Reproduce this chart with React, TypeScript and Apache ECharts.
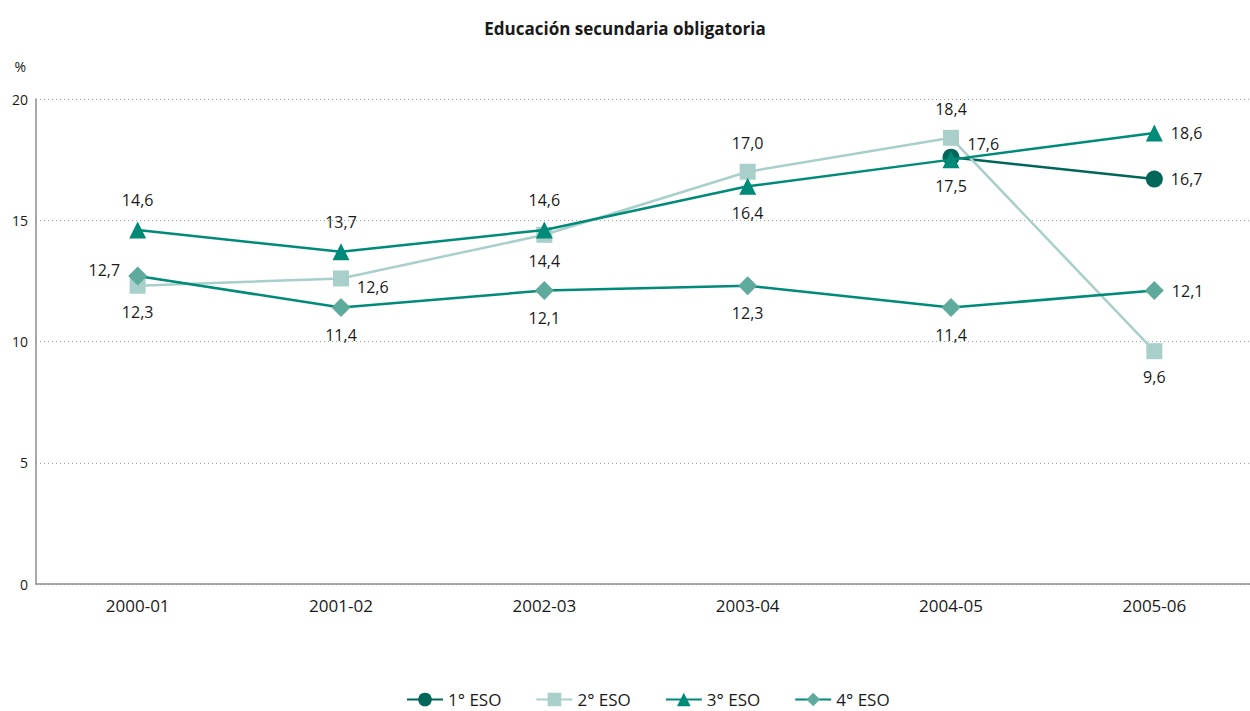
import React, { useEffect, useRef } from "react";
import * as echarts from "echarts";

const categories = ["2000-01", "2001-02", "2002-03", "2003-04", "2004-05", "2005-06"];
const seriesNames = ["1° ESO", "2° ESO", "3° ESO", "4° ESO"];
const eso1 = [null, null, null, null, 17.6, 16.7];
const eso2 = [12.3, 12.6, 14.4, 17.0, 18.4, 9.6];
const eso3 = [14.6, 13.7, 14.6, 16.4, 17.5, 18.6];
const eso4 = [12.7, 11.4, 12.1, 12.3, 11.4, 12.1];
const yTicks = [0, 5, 10, 15, 20];

// label placement per point
const pos1 = ["top", "top", "top", "top", "right", "right"];
const pos2 = ["bottom", "right", "bottom", "top", "top", "bottom"];
const pos3 = ["top", "top", "top", "bottom", "bottom", "right"];
const pos4 = ["left", "bottom", "bottom", "bottom", "bottom", "right"];
const off1 = [[0, 0], [0, 0], [0, 0], [0, 0], [0, -13], [0, 0]];
const off2 = [[0, 0], [0, 9], [0, 0], [0, 0], [0, 0], [0, 0]];
const off4 = [[0, -6], [0, 0], [0, 0], [0, 0], [0, 0], [0, 0]];

const fmt = (v: number) => v.toFixed(1).replace(".", ",");

function build(values: (number | null)[], positions: string[], offsets?: number[][]) {
  return values.map((v, i) => {
    if (v === null) return null;
    const p = positions[i];
    return {
      value: v,
      label: {
        position: p,
        distance: p === "top" ? 13 : p === "bottom" ? 10 : 8,
        offset: offsets ? offsets[i] : [0, 0],
      },
    };
  });
}

export default function App() {
  const ref = useRef<HTMLDivElement>(null);
  useEffect(() => {
    document.body.style.margin = "0";
    if (!ref.current) return;
    const chart = echarts.init(ref.current, undefined, { renderer: "svg" });
    const font = "'Open Sans', 'Noto Sans', sans-serif";
    const labelBase = {
      show: true,
      fontSize: 16,
      color: "#1a1a1a",
      fontFamily: font,
      formatter: (p: any) => fmt(p.value),
    };
    chart.setOption({
      animation: false,
      textStyle: { fontFamily: font },
      title: {
        text: "Educación secundaria obligatoria",
        left: "center",
        top: 15,
        textStyle: { fontSize: 17, fontWeight: "bold", color: "#1a1a1a", fontFamily: font },
      },
      legend: {
        top: 686,
        left: 401,
        itemWidth: 36,
        itemHeight: 17,
        itemGap: 34,
        textStyle: { fontSize: 17, color: "#1a1a1a", fontFamily: font },
        data: seriesNames,
      },
      grid: {
        left: 36,
        width: 1220,
        top: 99,
        bottom: 127,
        containLabel: false,
        outerBoundsMode: "none",
      },
      xAxis: {
        type: "category",
        data: categories,
        axisLine: { lineStyle: { color: "#8c8c8c", width: 1.5 } },
        axisTick: { show: false },
        axisLabel: { fontSize: 17, color: "#1a1a1a", margin: 13, fontFamily: font },
      },
      yAxis: {
        type: "value",
        min: yTicks[0],
        max: yTicks[yTicks.length - 1],
        interval: 5,
        name: "%",
        nameLocation: "end",
        nameGap: 26,
        nameTextStyle: { fontSize: 14, color: "#1a1a1a", align: "right", padding: [0, 10, 0, 0] },
        axisLine: { show: true, lineStyle: { color: "#8c8c8c", width: 1.5 } },
        axisTick: { show: false },
        axisLabel: { fontSize: 14, color: "#1a1a1a", margin: 8, fontFamily: font },
        splitLine: { lineStyle: { color: "#a0a0a0", type: [1, 3], width: 1 } },
      },
      series: [
        {
          name: seriesNames[0],
          type: "line",
          data: build(eso1, pos1, off1),
          symbol: "circle",
          symbolSize: 17,
          itemStyle: { color: "#00665a" },
          lineStyle: { color: "#00665a", width: 2.5 },
          label: labelBase,
          z: 2,
        },
        {
          name: seriesNames[1],
          type: "line",
          data: build(eso2, pos2, off2),
          symbol: "rect",
          symbolSize: 16,
          itemStyle: { color: "#a8cfca" },
          lineStyle: { color: "#a8cfca", width: 2.5 },
          label: labelBase,
          z: 3,
        },
        {
          name: seriesNames[2],
          type: "line",
          data: build(eso3, pos3),
          symbol: "triangle",
          symbolSize: 17,
          itemStyle: { color: "#008a78" },
          lineStyle: { color: "#008a78", width: 2.5 },
          label: labelBase,
          z: 4,
        },
        {
          name: seriesNames[3],
          type: "line",
          data: build(eso4, pos4, off4),
          symbol: "diamond",
          symbolSize: 19,
          itemStyle: { color: "#5eaa9c" },
          lineStyle: { color: "#008a78", width: 2.5 },
          label: labelBase,
          z: 5,
        },
      ],
    });
    return () => chart.dispose();
  }, []);
  return <div ref={ref} style={{ width: 1250, height: 711 }} />;
}
